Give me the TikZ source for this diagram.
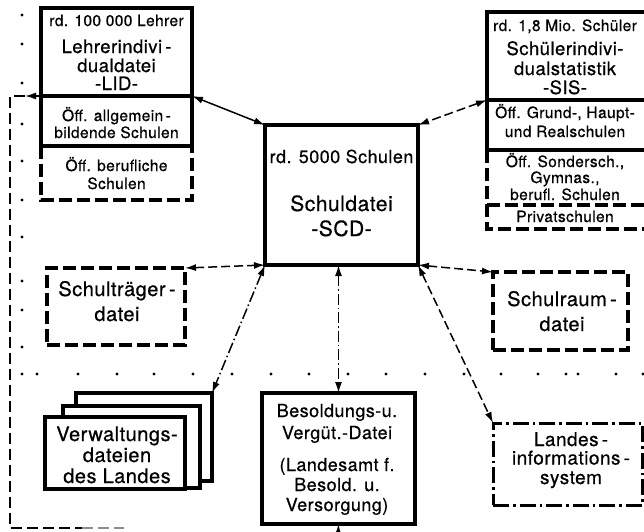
\documentclass[tikz,border=0pt]{standalone}
\usepackage{fontspec}
\setmainfont{TeX Gyre Heros}[LetterSpace=2.5, FakeBold=0.6]
\usetikzlibrary{arrows.meta}
\newcommand\fsz[1]{\fontsize{#1}{#1}\selectfont}

\begin{document}
\begin{tikzpicture}[x=1pt,y=-1pt,
  frame/.style={line width=3.2pt},
  dashframe/.style={line width=3.2pt, dash pattern=on 13pt off 5pt},
  ddframe/.style={line width=3pt, dash pattern=on 16pt off 4pt on 2.5pt off 4pt},
  boxnode/.style={draw, frame, outer sep=0pt, inner sep=0pt, fill=white},
  txt/.style={anchor=base, inner sep=0pt},
  small/.style={txt, font=\fsz{15.5}},
  big/.style={txt, font=\fsz{18.5}},
  link/.style={line width=1.5pt, {Latex[length=11pt,width=7pt]}-{Latex[length=11pt,width=7pt]}},
  linkdash/.style={link, dash pattern=on 9pt off 4pt},
  linkdd/.style={link, dash pattern=on 11pt off 3pt on 1.5pt off 3pt},
  border/.style={line width=1.6pt, dash pattern=on 11pt off 5pt},
  onearrow/.style={line width=1.5pt, -{Latex[length=11pt,width=7pt]}}
]
\path[use as bounding box, fill=white] (0,0) rectangle (644,531);

% dotted guide lines
\foreach \y in {15,44,83,124,161,200,237,281,310,347}
  \fill (22,\y) circle (1.6pt);
\foreach \x in {22,37,78,117,154,193,232,271,309,348,386,425,464,501,538,566,578,616,643}
  \fill (\x,374) circle (1.6pt);

% ---- Lehrerindividualdatei ----
\draw[frame] (41,8) rectangle (192,146);
\draw[frame] (41,96) -- (192,96);
\draw[dashframe] (41,146) -- (41,200) -- (192,200) -- (192,146);
\coordinate (lidL) at (41,96);
\coordinate (lidR) at (192,96);
\node[small] (lid1) at (116.5,26) {rd. 100 000 Lehrer};
\node[big]   (lid2) at (116.5,53) {Lehrerindivi\,-};
\node[big]   (lid3) at (116.5,72) {dualdatei};
\node[big]   (lid4) at (116.5,90) {-LID-};
\node[small] (lid5) at (116.5,121) {Öff. allgemein\,-};
\node[small] (lid6) at (116.5,138) {bildende Schulen};
\node[small] (lid7) at (116.5,171) {Öff. berufliche};
\node[small] (lid8) at (116.5,189) {Schulen};

% ---- Schülerindividualstatistik ----
\draw[frame] (647,12) -- (487,12) -- (487,150) -- (647,150);
\draw[frame] (487,100) -- (647,100);
\draw[dashframe] (487,150) -- (487,229) -- (647,229);
\draw[dashframe] (487,205) -- (647,205);
\coordinate (sisL) at (487,100);
\node[small] (sis1) at (565,31) {rd. 1,8 Mio. Schüler};
\node[big]   (sis2) at (565,55) {Schülerindivi-};
\node[big]   (sis3) at (565,75) {dualstatistik};
\node[big]   (sis4) at (565,94) {-SIS-};
\node[small] (sis5) at (565,118) {Öff. Grund-, Haupt-};
\node[small] (sis6) at (565,137) {und Realschulen};
\node[small] (sis7) at (565,167) {Öff. Sondersch.,};
\node[small] (sis8) at (565,183) {Gymnas.,};
\node[small] (sis9) at (565,200) {berufl. Schulen};
\node[small] (sis10) at (565,222) {Privatschulen};

% ---- Schuldatei ----
\node[boxnode, minimum width=153pt, minimum height=140pt] (scd) at (341.5,195) {};
\node[txt, font=\fsz{18}] (scd1) at (341.5,163) {rd. 5000 Schulen};
\node[txt, font=\fsz{21}] (scd2) at (341.5,211) {Schuldatei};
\node[txt, font=\fsz{21}] (scd3) at (341.5,236) {-SCD-};

% ---- Schulträgerdatei ----
\node[boxnode, dashframe, minimum width=138pt, minimum height=77pt] (st) at (116,306.5) {};
\node[txt, font=\fsz{20}] (st1) at (117,296) {Schulträger\,-};
\node[txt, font=\fsz{20}] (st2) at (117,321) {datei};

% ---- Schulraumdatei ----
\node[boxnode, dashframe, minimum width=135pt, minimum height=78pt] (sr) at (560.5,311) {};
\node[txt, font=\fsz{20}] (sr1) at (562,306) {Schulraum\,-};
\node[txt, font=\fsz{20}] (sr2) at (562,331) {datei};

% ---- Verwaltungsdateien (stack of three) ----
\node[boxnode, minimum width=136pt, minimum height=88pt] (vw3) at (144,437) {};
\node[boxnode, minimum width=137pt, minimum height=82pt] (vw2) at (131.5,447) {};
\node[boxnode, minimum width=140pt, minimum height=72pt] (vw1) at (115,453) {};
\node[txt, font=\fsz{20}] (vwt1) at (117,441) {Verwaltungs-};
\node[txt, font=\fsz{20}] (vwt2) at (117,462) {dateien};
\node[txt, font=\fsz{20}] (vwt3) at (117,483) {des Landes};

% ---- Besoldungs- und Vergütungsdatei ----
\node[boxnode, minimum width=153pt, minimum height=131pt] (bs) at (338.5,458.5) {};
\node[txt, font=\fsz{18}] (bs1) at (337,417) {Besoldungs-u.};
\node[txt, font=\fsz{18}] (bs2) at (337,439) {Vergüt.-Datei};
\node[txt, font=\fsz{18}] (bs3) at (337,471) {(Landesamt f.};
\node[txt, font=\fsz{18}] (bs4) at (337,491) {Besold. u.};
\node[txt, font=\fsz{18}] (bs5) at (337,511) {Versorgung)};

% ---- Landesinformationssystem ----
\node[boxnode, ddframe, minimum width=149pt, minimum height=82pt] (lis) at (567.5,464) {};
\node[txt, font=\fsz{19}] (lis1) at (571,446) {Landes\,-};
\node[txt, font=\fsz{19}] (lis2) at (571,464.5) {informations\,-};
\node[txt, font=\fsz{19}] (lis3) at (571,484) {system};

% ---- connectors ----
\draw[link] (lidR) -- (scd.north west);
\draw[linkdash] (sisL) -- (scd.north east);
\draw[linkdash] (st.north east) -- (scd.south west);
\draw[linkdd] (scd.south west) -- (vw3.north east);
\draw[linkdd] (scd.south -| bs.north) -- (bs.north);
\draw[linkdash] (scd.south east) -- (sr.north west);
\draw[linkdash] (scd.south east) -- (lis.north west);

% return line along the left edge
\coordinate (brdTip) at (25,96);
\coordinate (brd1) at (10,96);
\coordinate (brd2) at (10,528);
\coordinate (brd3) at (82,528);
\coordinate (brd4) at (124,528);
\coordinate (bsFoot) at (338,542);
\draw[onearrow] (lidL) -- (brdTip);
\draw[border] (brdTip) -- (brd1) -- (brd2) -- (brd3);
\draw[border, black!45] (brd3) -- (brd4);
\draw[onearrow] (bsFoot) -- (bs.south);
\end{tikzpicture}
\end{document}
